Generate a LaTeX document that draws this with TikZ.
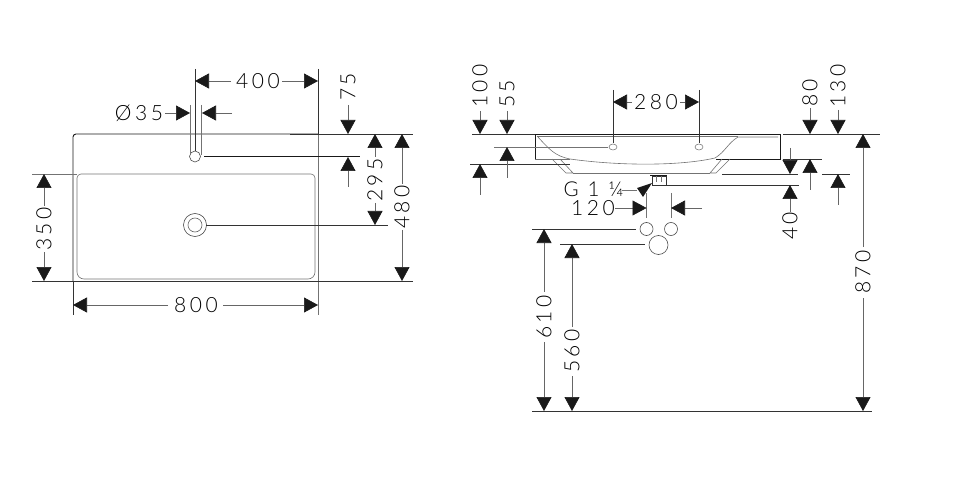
\documentclass[tikz,border=0pt]{standalone}
\usepackage{fontspec}
\setmainfont[LetterSpace=17]{Lato Light}
\usetikzlibrary{arrows.meta, shapes.geometric}
\tikzset{
    dim/.style={line width=0.6pt, draw=black!60, -{Triangle[width=15pt,length=14pt,color=black!90]}},
    thinline/.style={line width=0.6pt, draw=black!55},
    extline/.style={line width=0.7pt, draw=black!80},
    outline/.style={line width=0.9pt, draw=black!90},
    value/.style={font=\fontsize{21}{21}\selectfont, inner sep=0pt},
}

\begin{document}
\begin{tikzpicture}[x=1pt, y=-1pt]
    \useasboundingbox (0,0) rectangle (960,494);

    % Top view
    \draw[outline] (73,281) -- (73,137) arc[start angle=180, end angle=270, radius=3] -- (318,134);
    \draw[thinline] (318,134) -- (318,281);
    \draw[thinline] (77,178) arc[start angle=180, end angle=270, radius=4] -- (311,174)
        arc[start angle=-90, end angle=0, radius=4] -- (315,272)
        arc[start angle=0, end angle=90, radius=7] -- (84,279)
        arc[start angle=90, end angle=180, radius=7] -- cycle;
    \node[circle, draw=black!70, line width=0.6pt, minimum size=11pt, inner sep=0pt] (tap_hole) at (195,156.5) {};
    \node[circle, draw=black!70, line width=0.6pt, minimum size=23pt, inner sep=0pt] (drain_out) at (195,225) {};
    \node[circle, draw=black!60, line width=0.6pt, minimum size=14pt, inner sep=0pt] (drain_in) at (195,225) {};

    % Top view, extension lines
    \draw[extline] (195,69) -- (195,151);
    \draw[thinline] (190,105) -- (190,155);
    \draw[thinline] (201,105) -- (201,155);
    \draw[extline] (318,69) -- (318,134);
    \draw[thinline] (318,281) -- (318,315);
    \draw[extline] (73,281) -- (73,315);
    \draw[extline] (290,134) -- (413,134);
    \draw[outline] (204,156.5) -- (360,156.5);
    \draw[extline] (206,225) -- (388,225);
    \draw[extline] (32,281) -- (413,281);
    \draw[thinline] (32,174) -- (77,174);

    % Top view, dimensions
    \node[value] (w400) at (258,81) {400};
    \draw[dim] (231,81) -- (195,81);
    \draw[dim] (282,81) -- (318,81);
    \node[value] (dia35) at (139,113) {Ø35};
    \draw[dim] (165,113) -- (190,113);
    \draw[dim] (232,113) -- (202,113);
    \node[value, rotate=90] (h75) at (348,87) {75};
    \draw[dim] (348,105) -- (348,134);
    \draw[dim] (348,187) -- (348,157);
    \node[value, rotate=90] (h295) at (375,180) {295};
    \draw[dim] (375,157) -- (375,134);
    \draw[dim] (375,203) -- (375,225);
    \node[value, rotate=90] (h480) at (402,207) {480};
    \draw[dim] (402,184) -- (402,134);
    \draw[dim] (402,230) -- (402,281);
    \node[value, rotate=90] (h350) at (44,229) {350};
    \draw[dim] (44,206) -- (44,174);
    \draw[dim] (44,252) -- (44,281);
    \node[value] (w800) at (196,305) {800};
    \draw[dim] (168,305) -- (73,305);
    \draw[dim] (223,305) -- (318,305);

    % Side view
    \draw[outline] (535,159) -- (535,134.5) -- (780,134.5) -- (780,159) -- (716,159);
    \draw[thinline] (535,159) -- (570,159);
    \draw[thinline] (537,136) .. controls (550,150) and (555,156) .. (570,159)
        .. controls (620,166) and (680,166) .. (715,158)
        .. controls (725,152) and (728,143) .. (738,137) -- (778,137);
    \draw[thinline] (537,136.5) -- (738,136.5);
    \draw[thinline] (552,159) -- (566,173) -- (573,173) -- (560,159);
    \draw[thinline] (722,159) -- (710,173) -- (716,173) -- (730,159);
    \draw[thinline] (573,173) -- (710,173);
    \node[ellipse, draw=black!50, line width=0.6pt, minimum width=8pt, minimum height=6pt, inner sep=0pt] (hole_a) at (613,147) {};
    \node[ellipse, draw=black!50, line width=0.6pt, minimum width=8pt, minimum height=6pt, inner sep=0pt] (hole_b) at (699,147) {};

    % Waste fitting
    \draw[outline] (650,175) -- (667,175);
    \draw[extline] (652,176) rectangle (666,185);
    \draw[thinline] (656.5,176) -- (656.5,182);
    \draw[thinline] (661.5,176) -- (661.5,182);

    % Wall connections
    \node[circle, draw=black!70, line width=0.6pt, minimum size=13pt, inner sep=0pt] (conn_a) at (646.5,229) {};
    \node[circle, draw=black!70, line width=0.6pt, minimum size=13pt, inner sep=0pt] (conn_b) at (671,229) {};
    \node[circle, draw=black!70, line width=0.6pt, minimum size=19pt, inner sep=0pt] (conn_c) at (658.5,245) {};

    % Side view, extension lines
    \draw[extline] (472,134) -- (535,134);
    \draw[extline] (783,134) -- (880,134);
    \draw[extline] (470,164) -- (570,164);
    \draw[extline] (783,159) -- (822,159);
    \draw[extline] (722,174) -- (798,174);
    \draw[extline] (822,174) -- (850,174);
    \draw[extline] (667,185) -- (799,185);
    \draw[thinline] (494,147) -- (608,147);
    \draw[extline] (613,90) -- (613,143);
    \draw[extline] (699,90) -- (699,143);
    \draw[thinline] (646.5,193) -- (646.5,218);
    \draw[thinline] (671,193) -- (671,218);
    \draw[extline] (532,229) -- (636,229);
    \draw[extline] (560,244) -- (645,244);
    \draw[extline] (532,411) -- (872,411);

    % Side view, dimensions
    \node[value] (w280) at (656,102) {280};
    \draw[dim] (632,102) -- (613,102);
    \draw[dim] (680,102) -- (699,102);
    \node[value, rotate=90] (h100) at (480,86) {100};
    \draw[dim] (480,111) -- (480,134);
    \draw[dim] (480,195) -- (480,164);
    \node[value, rotate=90] (h55) at (507,94) {55};
    \draw[dim] (507,111) -- (507,134);
    \draw[dim] (507,178) -- (507,147);
    \node[value, rotate=90] (h80) at (810,93) {80};
    \draw[dim] (810,108) -- (810,134);
    \draw[dim] (810,190) -- (810,159);
    \node[value, rotate=90] (h130) at (838,86) {130};
    \draw[dim] (838,110) -- (838,134);
    \draw[dim] (838,205) -- (838,174);
    \node[value, rotate=90] (h40) at (790,226) {40};
    \draw[dim] (790,148) -- (790,174);
    \draw[dim] (790,212) -- (790,185);
    \node[value, rotate=90] (h870) at (863,272) {870};
    \draw[dim] (863,247) -- (863,134);
    \draw[dim] (863,298) -- (863,411);
    \node[value, rotate=90] (h610) at (544,317) {610};
    \draw[dim] (544,292) -- (544,229);
    \draw[dim] (544,342) -- (544,411);
    \node[value, rotate=90] (h560) at (572,351) {560};
    \draw[dim] (572,327) -- (572,244);
    \draw[dim] (572,376) -- (572,411);
    \node[value] (w120) at (593,208.5) {120};
    \draw[dim] (615,208) -- (646.5,208);
    \draw[dim] (702,208) -- (671,208);
    \node[value, font=\fontsize{20.5}{20.5}\selectfont] (thread) at (593.5,189) {G\;\,1\;\,¼};
    \draw[thinline] (622,190) -- (637,190);
    \fill[black!90] (637,188) -- (652,183) -- (643,197) -- cycle;
\end{tikzpicture}
\end{document}
